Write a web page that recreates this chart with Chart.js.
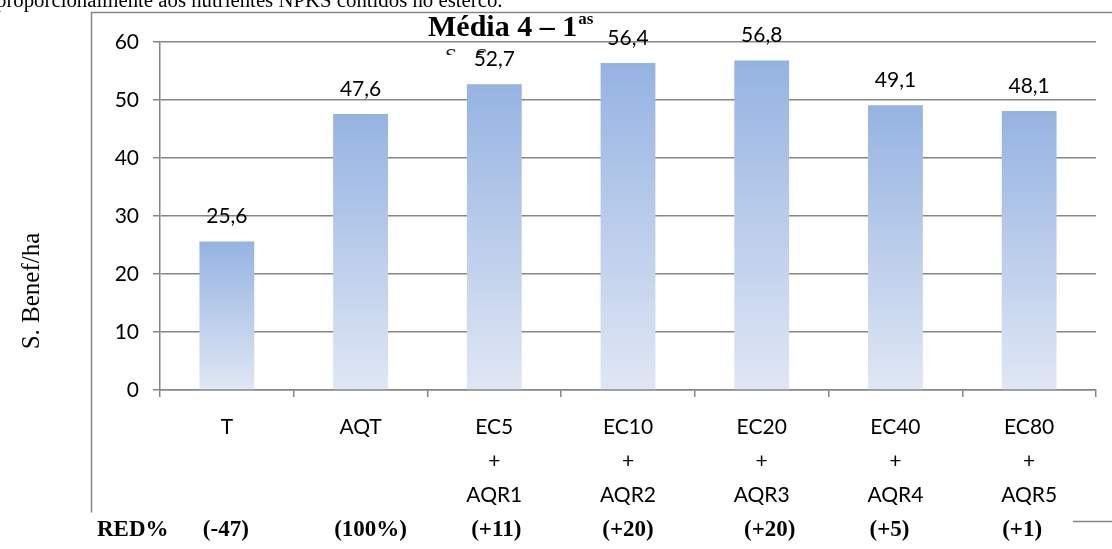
<!DOCTYPE html>
<html>
<head>
<meta charset="utf-8">
<script src="https://cdn.jsdelivr.net/npm/chart.js@4/dist/chart.umd.min.js"></script>
<style>
  html, body { margin: 0; padding: 0; background: #ffffff; }
  #wrap { width: 1112px; height: 549px; position: relative; }
</style>
</head>
<body>
<div id="wrap"><canvas id="chart" width="1112" height="549"></canvas></div>
<script>
// Treatments (multi-line category labels)
const categories = [
  ['T'],
  ['AQT'],
  ['EC5', '+', 'AQR1'],
  ['EC10', '+', 'AQR2'],
  ['EC20', '+', 'AQR3'],
  ['EC40', '+', 'AQR4'],
  ['EC80', '+', 'AQR5']
];
// S. Benef/ha per treatment
const values = [25.6, 47.6, 52.7, 56.4, 56.8, 49.1, 48.1];
// Relative yield row under the chart
const redLabels = ['(-47)', '(100%)', '(+11)', '(+20)', '(+20)', '(+5)', '(+1)'];
const yTicks = [0, 10, 20, 30, 40, 50, 60];

const SERIF = '"Liberation Serif", "Times New Roman", serif';
const SANS = 'Lato, "Open Sans", sans-serif';
const GRID = '#868686';

const fmt = v => v.toFixed(1).replace('.', ',');

// Page text, frame, title, value labels and the RED% row
const decorations = {
  id: 'decorations',
  beforeDraw(chart) {
    const c = chart.ctx;
    c.save();
    c.fillStyle = '#ffffff';
    c.fillRect(0, 0, chart.width, chart.height);
    c.restore();
  },
  afterDatasetsDraw(chart) {
    const c = chart.ctx;
    const meta = chart.getDatasetMeta(0);
    const xs = chart.scales.x;
    c.save();

    // document line above the chart (cut by the page edge)
    c.fillStyle = '#000';
    c.font = '20.8px ' + SERIF;
    c.textAlign = 'left';
    c.textBaseline = 'alphabetic';
    c.fillText('proporcionalmente aos nutrientes NPKS contidos no esterco.', -4, 6.5);

    // chart frame (partially visible)
    c.strokeStyle = GRID;
    c.lineWidth = 1.5;
    c.beginPath();
    c.moveTo(91.5, 512.5);
    c.lineTo(91.5, 12.5);
    c.lineTo(1112, 12.5);
    c.moveTo(1073, 521.5);
    c.lineTo(1112, 521.5);
    c.stroke();

    // second title line, mostly hidden
    c.save();
    c.beginPath();
    c.rect(430, 44, 80, 11);
    c.clip();
    c.fillStyle = '#222';
    c.font = '22px ' + SERIF;
    c.fillText('S - S', 445, 63);
    c.restore();

    // title with superscript
    c.fillStyle = '#000';
    c.font = 'bold 30px ' + SERIF;
    const main = 'Média 4 – 1';
    c.fillText(main, 428, 36);
    const w = c.measureText(main).width;
    c.font = 'bold 17px ' + SERIF;
    c.fillText('as', 428 + w + 1, 24);

    // value labels above bars
    c.font = '21px ' + SANS;
    c.textAlign = 'center';
    c.textBaseline = 'middle';
    meta.data.forEach((bar, i) => {
      c.fillText(fmt(values[i]), bar.x, bar.y - 25);
    });

    // RED% row
    c.font = 'bold 23px ' + SERIF;
    c.textAlign = 'left';
    c.textBaseline = 'alphabetic';
    c.fillText('RED%', 97, 536);
    const nudge = [-1, 10, 2, 0, 8, -6, -7];
    c.textAlign = 'center';
    redLabels.forEach((t, i) => {
      c.fillText(t, xs.getPixelForValue(i) + nudge[i], 536);
    });

    // y-axis title
    c.translate(32, 291);
    c.rotate(-Math.PI / 2);
    c.font = '25px ' + SERIF;
    c.textAlign = 'center';
    c.textBaseline = 'middle';
    c.fillText('S. Benef/ha', 0, 0);
    c.restore();
  }
};

new Chart(document.getElementById('chart'), {
  type: 'bar',
  data: {
    labels: categories,
    datasets: [{
      data: values,
      borderWidth: 0,
      barPercentage: 0.41,
      categoryPercentage: 1.0,
      backgroundColor(ctx) {
        const chart = ctx.chart;
        const y = chart.scales && chart.scales.y;
        if (!y || ctx.type !== 'data') return '#b3c7ea';
        const top = y.getPixelForValue(ctx.raw);
        const base = y.getPixelForValue(0);
        if (!isFinite(top) || !isFinite(base) || top === base) return '#b3c7ea';
        const g = chart.ctx.createLinearGradient(0, top, 0, base);
        g.addColorStop(0, '#95b3e2');
        g.addColorStop(1, '#e0e7f4');
        return g;
      }
    }]
  },
  options: {
    responsive: false,
    devicePixelRatio: 1,
    animation: false,
    layout: { padding: { top: 42, right: 16, left: 0, bottom: 0 } },
    plugins: { legend: { display: false }, tooltip: { enabled: false }, title: { display: false } },
    scales: {
      x: {
        offset: true,
        afterFit(s) { s.height = 159; },
        grid: { offset: true, drawOnChartArea: false, drawTicks: true, tickLength: 7, color: GRID, lineWidth: 1.5 },
        border: { color: GRID, width: 1.5 },
        ticks: {
          color: '#000',
          autoSkip: false,
          maxRotation: 0,
          padding: 13,
          font: { family: SANS, size: 21, lineHeight: 34 / 21 }
        }
      },
      y: {
        min: 0,
        max: 60,
        afterFit(s) { s.width = 160; },
        afterBuildTicks(s) { s.ticks = yTicks.map(v => ({ value: v })); },
        grid: { color: GRID, lineWidth: 1.5, tickLength: 7, drawTicks: true },
        border: { color: GRID, width: 1.5 },
        ticks: {
          color: '#000',
          padding: 14,
          font: { family: SANS, size: 21 }
        }
      }
    }
  },
  plugins: [decorations]
});
</script>
</body>
</html>
